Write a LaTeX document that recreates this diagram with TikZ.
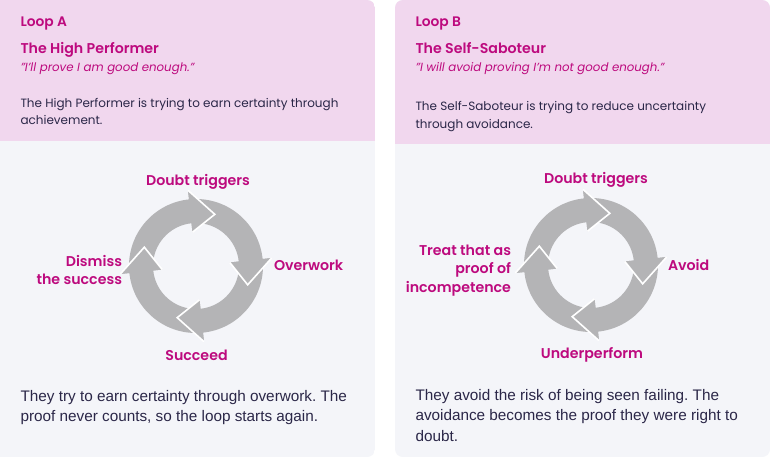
\documentclass[tikz,border=0pt]{standalone}
\usepackage{fontspec}
\setmainfont{Poppins}[BoldFont={Poppins SemiBold}]
\newfontfamily\bodyfont{Liberation Sans}
\definecolor{mag}{HTML}{BD0A7E}
\definecolor{pinkbg}{HTML}{F1D7EE}
\definecolor{bodybg}{HTML}{F4F5F9}
\definecolor{ink}{HTML}{2B2748}
\definecolor{arrowgray}{HTML}{B4B4B6}
\tikzset{
  txt/.style={inner sep=0pt, outer sep=0pt},
  looptag/.style={txt, anchor=base west, text=mag, font=\fontsize{13.8}{17}\selectfont\bfseries},
  persona/.style={txt, anchor=base west, text=mag, font=\fontsize{14.2}{17}\selectfont\bfseries},
  quote/.style={txt, anchor=base west, text=mag, font=\fontsize{11.8}{14}\selectfont\itshape},
  desc/.style={txt, anchor=base west, text=ink, font=\fontsize{12}{15}\selectfont},
  summary/.style={txt, anchor=base west, text=ink, font=\bodyfont\fontsize{15.3}{18}\selectfont},
  steplabel/.style={txt, text=mag, font=\fontsize{14.2}{17}\selectfont\bfseries},
  ringbody/.style={fill=arrowgray},
  ringhead/.style={draw=white, line width=1.6pt, line join=miter}
}
\newcommand\cyclering[1]{%
  \begin{scope}[shift={#1}, y=1pt]
    \foreach \b in {96,6,-84,-174} {
      \pgfmathsetmacro\t{\b-26}
      \pgfmathsetmacro\s{\b+86}
      \fill[ringbody] (\s:43) -- (\s:67) arc[start angle=\s, end angle=\b, radius=67]
        -- (\b:76) -- (\t:55) -- (\b:34) -- (\b:43)
        arc[start angle=\b, end angle=\s, radius=43] -- cycle;
    }
    \foreach \b in {96,6,-84,-174} {
      \pgfmathsetmacro\t{\b-26}
      \fill[ringbody] (\b:76) -- (\t:55) -- (\b:34) -- cycle;
      \draw[ringhead] (\b:76) -- (\t:55) -- (\b:34);
    }
  \end{scope}}
\begin{document}
\frenchspacing
\begin{tikzpicture}[x=1pt, y=-1pt]
\useasboundingbox (0,0) rectangle (770,458);
\fill[white] (0,0) rectangle (770,458);
% left panel
\begin{scope}
  \clip[rounded corners=8pt] (-12,0) rectangle (375,457);
  \fill[bodybg] (-12,0) rectangle (375,457);
  \fill[pinkbg] (-12,0) rectangle (375,141);
\end{scope}
% right panel
\begin{scope}
  \clip[rounded corners=8pt] (395,0) rectangle (770,457);
  \fill[bodybg] (395,0) rectangle (770,457);
  \fill[pinkbg] (395,0) rectangle (770,144);
\end{scope}

% left header
\node[looptag] (la) at (20.5,26) {Loop A};
\node[persona] (lp) at (20.5,53.3) {The High Performer};
\node[quote] (lq) at (20.5,71.7) {"I'll prove I am good enough."};
\node[desc] (ld1) at (20.5,107.3) {The High Performer is trying to earn certainty through};
\node[desc] (ld2) at (20.5,124.3) {achievement.};

% right header
\node[looptag] (ra) at (415.5,26) {Loop B};
\node[persona] (rp) at (415.5,53.3) {The Self-Saboteur};
\node[quote] (rq) at (415.5,71.7) {"I will avoid proving I'm not good enough."};
\node[desc] (rd1) at (415.5,110) {The Self-Saboteur is trying to reduce uncertainty};
\node[desc] (rd2) at (415.5,128) {through avoidance.};

% rings
\cyclering{(196,266)}
\cyclering{(591,265)}

% left labels
\node[steplabel, anchor=base] (l1) at (198,185.5) {Doubt triggers};
\node[steplabel, anchor=base west] (l2) at (274,270.7) {Overwork};
\node[steplabel, anchor=base] (l3) at (196.5,360) {Succeed};
\node[steplabel, anchor=base east] (l4a) at (122,266.7) {Dismiss};
\node[steplabel, anchor=base east] (l4b) at (122,284.3) {the success};

% right labels
\node[steplabel, anchor=base] (r1) at (596,183.3) {Doubt triggers};
\node[steplabel, anchor=base west] (r2) at (668,270) {Avoid};
\node[steplabel, anchor=base] (r3) at (592,358) {Underperform};
\node[steplabel, anchor=base east] (r4a) at (511,255) {Treat that as};
\node[steplabel, anchor=base east] (r4b) at (511,273.5) {proof of};
\node[steplabel, anchor=base east] (r4c) at (511,292) {incompetence};

% summaries
\node[summary] (ls1) at (20.5,401.7) {They try to earn certainty through overwork. The};
\node[summary] (ls2) at (20.5,421.7) {proof never counts, so the loop starts again.};
\node[summary] (rs1) at (415.5,400) {They avoid the risk of being seen failing. The};
\node[summary] (rs2) at (415.5,420.7) {avoidance becomes the proof they were right to};
\node[summary] (rs3) at (415.5,441) {doubt.};
\end{tikzpicture}
\end{document}
